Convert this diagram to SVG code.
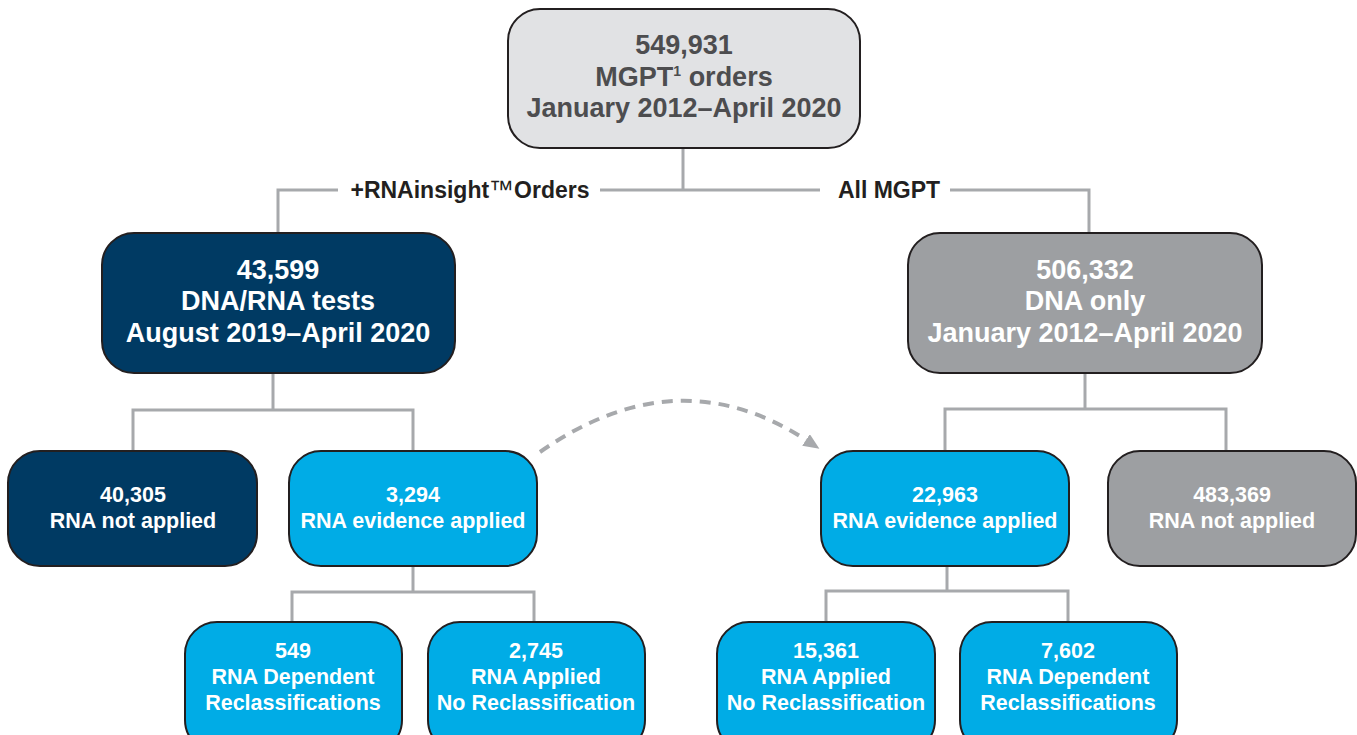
<svg xmlns="http://www.w3.org/2000/svg" width="1357" height="735" viewBox="0 0 1357 735">
<style>
.box{stroke:#231f20;stroke-width:2}
.top{fill:#e1e2e4}
.navy{fill:#003a63}
.cyan{fill:#00ace6}
.gray{fill:#9d9fa2}
.conn{fill:none;stroke:#a7a9ac;stroke-width:3}
.dash{fill:none;stroke:#a7a9ac;stroke-width:4;stroke-dasharray:11 8}
text{font-family:"Liberation Sans",Arial,Helvetica,sans-serif;font-weight:bold;text-anchor:middle}
.big{font-size:27px}
.sm{font-size:21.5px}
.lbl{font-size:23px;fill:#231f20}
.w{fill:#ffffff}
.dk{fill:#4d4d4f}
</style>
<defs>
<marker id="ah" markerWidth="16" markerHeight="14" refX="0" refY="7" orient="auto" markerUnits="userSpaceOnUse">
<path d="M0,0 L16,7 L0,14 z" fill="#a7a9ac"/>
</marker>
</defs>
<g id="connectors">
<path class="conn" d="M683,148 V190"/>
<path class="conn" d="M278,233 V190 H338"/>
<path class="conn" d="M600,190 H820"/>
<path class="conn" d="M950,190 H1089 V233"/>
<path class="conn" d="M273,373 V410"/>
<path class="conn" d="M133,451 V410 H413 V451"/>
<path class="conn" d="M1085,373 V409"/>
<path class="conn" d="M945,451 V409 H1226 V451"/>
<path class="conn" d="M413,566 V592"/>
<path class="conn" d="M292,622 V592 H534 V622"/>
<path class="conn" d="M947,566 V591"/>
<path class="conn" d="M826,622 V591 H1068 V622"/>
<path class="dash" d="M540,452 Q677,356 806,440" marker-end="url(#ah)"/>
<text class="lbl" x="470" y="198">+RNAinsight<tspan font-weight="normal" font-size="25">™</tspan>Orders</text>
<text class="lbl" x="889" y="198">All MGPT</text>
</g>
<g id="n-total">
<rect class="box top" x="508" y="9" width="352" height="139" rx="32"/>
<text class="big dk" x="684" y="54">549,931</text>
<text class="big dk" x="684" y="86">MGPT<tspan font-size="14" dy="-10">1</tspan><tspan dy="10"> orders</tspan></text>
<text class="big dk" x="684" y="117">January 2012–April 2020</text>
</g>
<g id="n-dnarna">
<rect class="box navy" x="102" y="233" width="353" height="140" rx="32"/>
<text class="big w" x="278" y="279">43,599</text>
<text class="big w" x="278" y="310">DNA/RNA tests</text>
<text class="big w" x="278" y="342">August 2019–April 2020</text>
</g>
<g id="n-dnaonly">
<rect class="box gray" x="908" y="233" width="354" height="140" rx="32"/>
<text class="big w" x="1085" y="279">506,332</text>
<text class="big w" x="1085" y="310">DNA only</text>
<text class="big w" x="1085" y="342">January 2012–April 2020</text>
</g>
<g id="n-left-notapplied">
<rect class="box navy" x="8" y="451" width="249" height="115" rx="32"/>
<text class="sm w" x="133" y="502">40,305</text>
<text class="sm w" x="133" y="528">RNA not applied</text>
</g>
<g id="n-left-applied">
<rect class="box cyan" x="289" y="451" width="248" height="115" rx="32"/>
<text class="sm w" x="413" y="502">3,294</text>
<text class="sm w" x="413" y="528">RNA evidence applied</text>
</g>
<g id="n-right-applied">
<rect class="box cyan" x="821" y="451" width="248" height="115" rx="32"/>
<text class="sm w" x="945" y="502">22,963</text>
<text class="sm w" x="945" y="528">RNA evidence applied</text>
</g>
<g id="n-right-notapplied">
<rect class="box gray" x="1108" y="451" width="248" height="115" rx="32"/>
<text class="sm w" x="1232" y="502">483,369</text>
<text class="sm w" x="1232" y="528">RNA not applied</text>
</g>
<g id="n-549">
<rect class="box cyan" x="185" y="622" width="217" height="130" rx="32"/>
<text class="sm w" x="293" y="658">549</text>
<text class="sm w" x="293" y="684">RNA Dependent</text>
<text class="sm w" x="293" y="710">Reclassifications</text>
</g>
<g id="n-2745">
<rect class="box cyan" x="428" y="622" width="217" height="130" rx="32"/>
<text class="sm w" x="536" y="658">2,745</text>
<text class="sm w" x="536" y="684">RNA Applied</text>
<text class="sm w" x="536" y="710">No Reclassification</text>
</g>
<g id="n-15361">
<rect class="box cyan" x="717" y="622" width="218" height="130" rx="32"/>
<text class="sm w" x="826" y="658">15,361</text>
<text class="sm w" x="826" y="684">RNA Applied</text>
<text class="sm w" x="826" y="710">No Reclassification</text>
</g>
<g id="n-7602">
<rect class="box cyan" x="960" y="622" width="217" height="130" rx="32"/>
<text class="sm w" x="1068" y="658">7,602</text>
<text class="sm w" x="1068" y="684">RNA Dependent</text>
<text class="sm w" x="1068" y="710">Reclassifications</text>
</g>
</svg>
